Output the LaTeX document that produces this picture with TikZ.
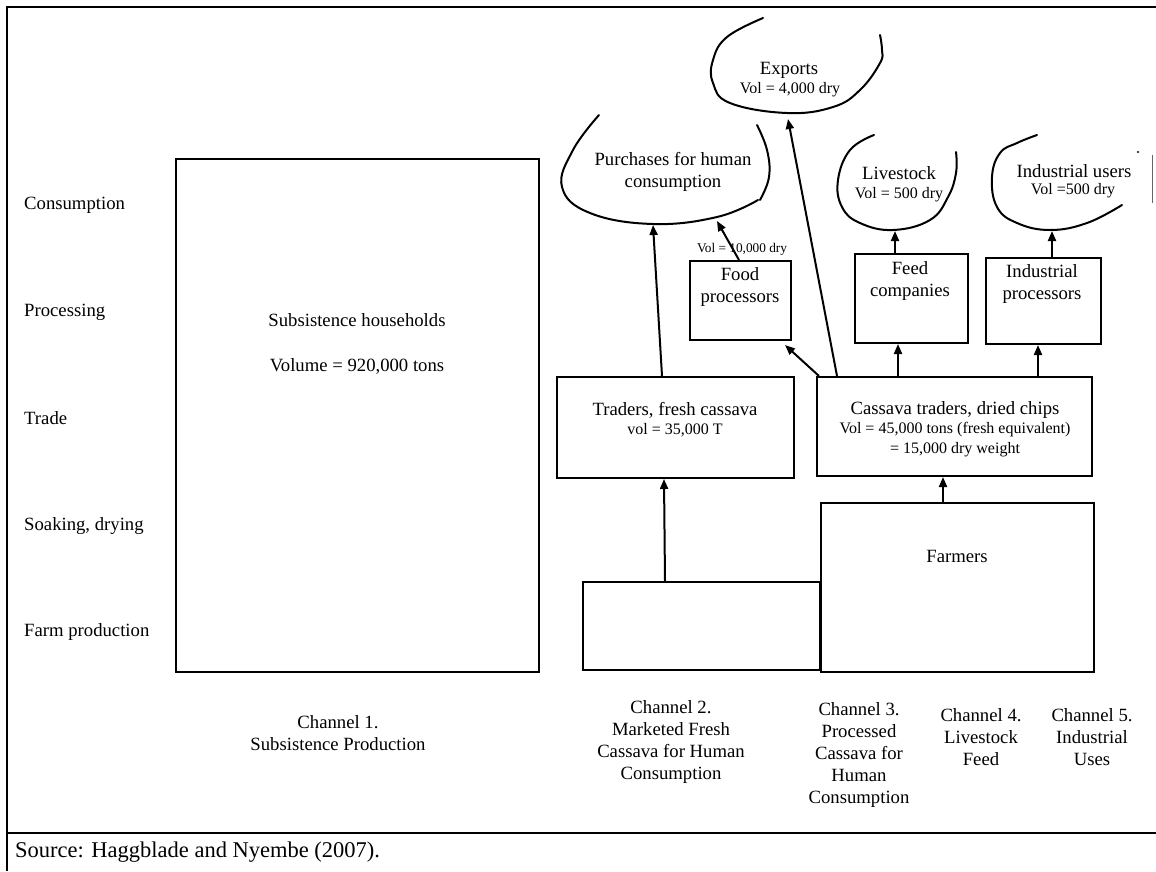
\documentclass[tikz,border=0pt]{standalone}
\usepackage{fontspec}
\setmainfont{Liberation Serif}
\usetikzlibrary{arrows.meta}

\begin{document}
\begin{tikzpicture}[x=1pt, y=-1pt,
    box/.style={draw, line width=2pt, inner sep=0pt},
    lbl/.style={inner sep=0pt, align=center, font=\fontsize{18.7}{22}\selectfont},
    vol/.style={inner sep=0pt, font=\fontsize{16}{19}\selectfont},
    flow/.style={-{Triangle[length=10pt,width=8pt]}, line width=2pt},
    curl/.style={line width=2pt, line cap=round},
    frame/.style={line width=2pt}]
    \useasboundingbox (0,0) rectangle (1156,871);

    % Table frame and source line
    \draw[frame] (7,871) -- (7,7) -- (1156,7);
    \draw[frame] (7,833) -- (1156,833);
    \node[lbl, anchor=west, font=\fontsize{22.5}{26}\selectfont] (src) at (15,852) {Source: Haggblade and Nyembe (2007).};

    % Stage labels on the left
    \node[lbl, anchor=west] (consume) at (24,205) {Consumption};
    \node[lbl, anchor=west] (process) at (24,312) {Processing};
    \node[lbl, anchor=west] (trade) at (24,418) {Trade};
    \node[lbl, anchor=west] (soak) at (24,526) {Soaking, drying};
    \node[lbl, anchor=west] (farmprod) at (24,632) {Farm production};

    % Channel 1
    \node[box, minimum width=363pt, minimum height=513pt] (subs) at (357.5,415.5) {};
    \node[lbl] (substxt) at (357,343.5) {Subsistence households\\[23pt]Volume = 920,000 tons};

    % Channel 2
    \node[box, minimum width=237pt, minimum height=88pt] (farmfresh) at (701.5,626) {};
    \node[box, minimum width=237pt, minimum height=101pt] (trfresh) at (675.5,427.5) {};
    \node[lbl] (trfreshtxt) at (675,410) {Traders, fresh cassava};
    \node[vol] (trfreshvol) at (675,430) {vol = 35,000 T};

    % Channels 3 to 5
    \node[box, minimum width=273pt, minimum height=169pt] (farmers) at (957.5,587.5) {};
    \node[lbl] (farmerstxt) at (957,556) {Farmers};
    \node[box, minimum width=275pt, minimum height=99pt] (trdry) at (954.5,426.5) {};
    \node[lbl] (trdrytxt) at (955,410) {Cassava traders, dried chips};
    \node[vol] (trdryvol) at (955,430) {Vol = 45,000 tons (fresh equivalent)};
    \node[vol] (trdrydry) at (955,450) {= 15,000 dry weight};

    \node[box, minimum width=101pt, minimum height=79pt] (foodproc) at (740.5,300.5) {};
    \node[lbl] (foodtxt) at (740,287) {Food\\processors};
    \node[box, minimum width=113pt, minimum height=89pt] (feedco) at (911.5,298.5) {};
    \node[lbl] (feedtxt) at (910,281) {Feed\\companies};
    \node[box, minimum width=115pt, minimum height=86pt] (indproc) at (1043.5,301) {};
    \node[lbl] (indtxt) at (1042,284) {Industrial\\processors};
    \node[vol, font=\fontsize{13.3}{16}\selectfont] (foodvol) at (742,249) {Vol = 10,000 dry};

    % Consumption outlets (hand drawn curls)
    \draw[curl] plot[smooth, tension=0.7] coordinates {(599,115) (573,150) (562,187) (590,213) (653,224) (717,217) (758,200)};
    \draw[curl] plot[smooth, tension=0.7] coordinates {(757,125) (767,150) (769,177) (760,200)};
    \node[lbl] (purchtxt) at (673,172) {Purchases for human\\consumption};
    \coordinate (purchin) at (653,225);
    \coordinate (purchfood) at (717,221);

    \draw[curl] plot[smooth, tension=0.7] coordinates {(763,18) (727,37) (713,60) (713,83) (730,103) (787,113) (833,107) (860,90) (880,63) (882,50) (880,35)};
    \node[lbl] (exptxt) at (789,70) {Exports};
    \node[vol] (expvol) at (790,90) {Vol = 4,000 dry};
    \coordinate (expin) at (788,119);

    \draw[curl] plot[smooth, tension=0.7] coordinates {(874,135) (850,150) (838,180) (842,207) (860,223) (893,230) (930,220) (948,197) (956,173) (956,152)};
    \node[lbl] (livetxt) at (899,173) {Livestock};
    \node[vol] (livevol) at (899,195) {Vol = 500 dry};
    \coordinate (livein) at (895,231);

    \draw[curl] plot[smooth, tension=0.7] coordinates {(1037,135) (1017,143) (1000,153) (992,177) (997,207) (1017,223) (1050,230) (1087,223) (1122,205)};
    \node[lbl] (indutxt) at (1074,171) {Industrial users};
    \node[vol] (induvol) at (1073,191) {Vol =500 dry};
    \coordinate (induin) at (1052,231);
    \fill (1138,152) circle (1.2pt);
    \draw[line width=0.8pt, black!60] (1152,155) -- (1152,203);

    % Flows
    \draw[flow] ([xshift=-36.5pt]farmfresh.north) -- ([xshift=-11.5pt]trfresh.south);
    \draw[flow] ([xshift=-13.5pt]trfresh.north) -- (purchin);
    \draw[flow] ([xshift=-14.5pt]farmers.north) -- ([xshift=-11.5pt]trdry.south);
    \draw[flow] ([xshift=3pt]trdry.north west) -- ([xshift=-7pt,yshift=-4pt]foodproc.south east);
    \draw[flow] ([xshift=-117.5pt]trdry.north) -- (expin);
    \draw[flow] ([xshift=-56.5pt]trdry.north) -- ([xshift=-13.5pt]feedco.south);
    \draw[flow] ([xshift=83.5pt]trdry.north) -- ([xshift=-5.5pt]indproc.south);
    \draw[flow] ([xshift=-1.5pt]foodproc.north) -- (purchfood);
    \draw[flow] ([xshift=-16.5pt]feedco.north) -- (livein);
    \draw[flow] ([xshift=8.5pt]indproc.north) -- (induin);

    % Channel names
    \node[lbl] (ch1) at (338,733) {Channel 1.\\Subsistence Production};
    \node[lbl] (ch2) at (671,741.5) {Channel 2.\\Marketed Fresh\\Cassava for Human\\Consumption};
    \node[lbl] (ch3) at (859,754.5) {Channel 3.\\Processed\\Cassava for\\Human\\Consumption};
    \node[lbl] (ch4) at (981,737.5) {Channel 4.\\Livestock\\Feed};
    \node[lbl] (ch5) at (1092,737.5) {Channel 5.\\Industrial\\Uses};
\end{tikzpicture}
\end{document}
